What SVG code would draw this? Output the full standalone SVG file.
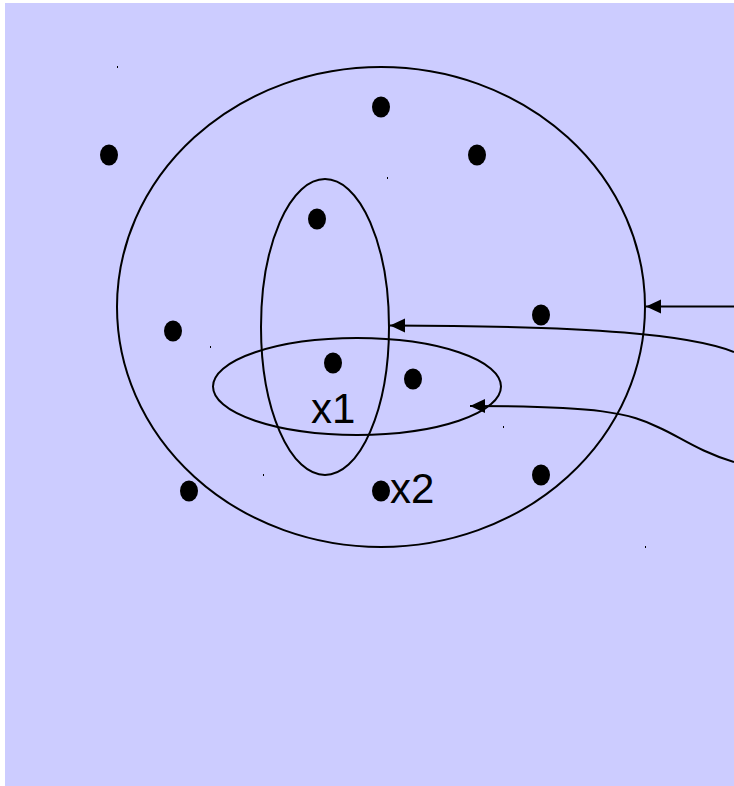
<svg xmlns="http://www.w3.org/2000/svg" width="734" height="786" viewBox="0 0 734 786">
<style>
.ring{fill:none;stroke:#000;stroke-width:2}
.dot{fill:#000}
.conn{fill:none;stroke:#000;stroke-width:2}
.lbl{font-family:"Liberation Sans",Arial,sans-serif;font-size:42px;fill:#000}
.spk{fill:#000}
</style>
<defs>
<marker id="ah" markerUnits="userSpaceOnUse" viewBox="0 -8 16 16" refX="15" refY="0" markerWidth="16" markerHeight="16" orient="auto">
<path d="M0,-7 L15,0 L0,7 z" fill="#000"/>
</marker>
</defs>
<rect x="5" y="3" width="729" height="783" fill="#CCCCFF"/>
<g id="sets">
<ellipse id="setA" class="ring" cx="381" cy="307" rx="264" ry="240"/>
<ellipse id="setB" class="ring" cx="325" cy="327" rx="64" ry="148"/>
<ellipse id="setC" class="ring" cx="357" cy="386.5" rx="144" ry="48.5"/>
</g>
<g id="points">
<ellipse class="dot" cx="381" cy="107" rx="9" ry="10.5"/>
<ellipse class="dot" cx="109" cy="155" rx="9" ry="10.5"/>
<ellipse class="dot" cx="477" cy="155" rx="9" ry="10.5"/>
<ellipse class="dot" cx="317" cy="219" rx="9" ry="10.5"/>
<ellipse class="dot" cx="173" cy="331" rx="9" ry="10.5"/>
<ellipse class="dot" cx="541" cy="315" rx="9" ry="10.5"/>
<ellipse class="dot" cx="333" cy="363" rx="9" ry="10.5"/>
<ellipse class="dot" cx="413" cy="379" rx="9" ry="10.5"/>
<ellipse class="dot" cx="189" cy="491" rx="9" ry="10.5"/>
<ellipse class="dot" cx="381" cy="491" rx="9" ry="10.5"/>
<ellipse class="dot" cx="541" cy="475" rx="9" ry="10.5"/>
</g>
<g id="specks">
<rect class="spk" x="117" y="66" width="1" height="2"/>
<rect class="spk" x="387" y="177" width="1" height="2"/>
<rect class="spk" x="210" y="346" width="1" height="2"/>
<rect class="spk" x="263" y="474" width="1" height="2"/>
<rect class="spk" x="503" y="426" width="1" height="2"/>
<rect class="spk" x="645" y="546" width="1" height="2"/>
</g>
<g id="labels">
<text class="lbl" x="311" y="423">x1</text>
<text class="lbl" x="390" y="503">x2</text>
</g>
<g id="connectors">
<path class="conn" d="M734,306.5 L646,306.5" marker-end="url(#ah)"/>
<path class="conn" d="M734,352 C690,335 600,326 390,325.5" marker-end="url(#ah)"/>
<path class="conn" d="M734,462 C700,452 680,437 660,428 C630,413 600,406 470,406" marker-end="url(#ah)"/>
</g>
</svg>
